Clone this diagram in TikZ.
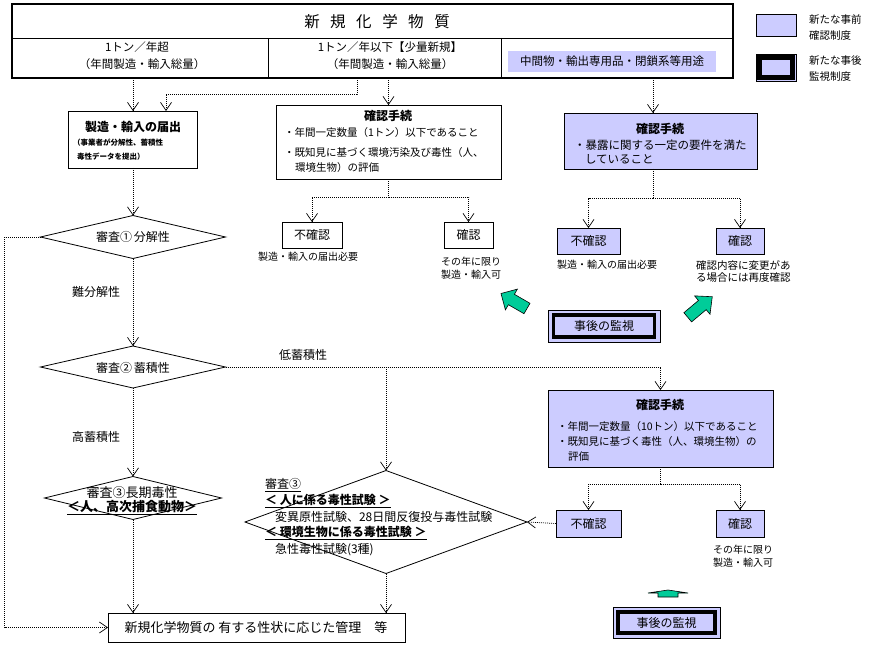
\documentclass[tikz,border=0pt]{standalone}
\usepackage{fontspec}
\setmainfont{Noto Sans CJK JP}
\usetikzlibrary{arrows.meta,shapes.geometric,calc}
\definecolor{lav}{RGB}{204,204,255}
\definecolor{grn}{RGB}{0,204,153}
\begin{document}
\begin{tikzpicture}[x=1pt,y=-1pt,
  bx/.style={draw,line width=0.8pt,inner sep=0,outer sep=0},
  lavbox/.style={bx,fill=lav},
  dia/.style={draw,line width=0.8pt,shape=diamond,inner sep=0,outer sep=0},
  dline/.style={line width=0.7pt,dash pattern=on 0.9pt off 1.1pt},
  flow/.style={dline,-{Straight Barb[length=8pt,width=11pt,line width=0.7pt]}},
  txt/.style={inner sep=0,outer sep=0},
  f13/.style={font=\fontsize{13}{15}\selectfont},
  f13b/.style={font=\fontsize{13}{15}\selectfont\bfseries},
  f12/.style={font=\fontsize{12}{14}\selectfont},
  f12b/.style={font=\fontsize{12}{14}\selectfont\bfseries},
  f11/.style={font=\fontsize{11.5}{13}\selectfont},
  f105/.style={font=\fontsize{10.5}{12}\selectfont},
  f10/.style={font=\fontsize{10}{12}\selectfont},
  f9/.style={font=\fontsize{10.5}{12}\selectfont},
  f75/.style={font=\fontsize{7.5}{9}\selectfont\bfseries},
  garrow/.style={fill=grn,draw=black,line width=0.6pt}]
\useasboundingbox (0,0) rectangle (877,647);

% ---------- top table ----------
\node[bx,line width=2.4pt,minimum width=721pt,minimum height=74pt] (top) at (372.5,41) {};
\draw[line width=0.8pt] (top.west |- 0,38) -- (top.east |- 0,38);
\draw[line width=0.8pt] (268,38) -- (268,78);
\draw[line width=0.8pt] (501,38) -- (501,78);
\node[txt,font=\fontsize{15.5}{17}\selectfont] (title) at (377,22) {新\hspace{10.5pt}規\hspace{10.5pt}化\hspace{10.5pt}学\hspace{10.5pt}物\hspace{10.5pt}質};
\node[txt,f11] (c1a) at (137,47) {1トン／年超};
\node[txt,f11] (c1b) at (142,64) {（年間製造・輸入総量）};
\node[txt,f11] (c2a) at (390,47) {1トン／年以下【少量新規】};
\node[txt,f11] (c2b) at (390,64) {（年間製造・輸入総量）};
\node[fill=lav,inner sep=0,minimum width=208pt,minimum height=21pt,f11] (c3) at (612,61.5) {中間物・輸出専用品・閉鎖系等用途};

% ---------- legend ----------
\node[lavbox,minimum width=40pt,minimum height=22pt] (L1) at (776,25) {};
\node[txt,f9,anchor=west] (L1a) at (809,20) {新たな事前};
\node[txt,f9,anchor=west] (L1b) at (809,36) {確認制度};
\node[lavbox,minimum width=40pt,minimum height=27pt] (L2) at (776,67.5) {};
\draw[line width=4.2pt] ([shift={(3.5pt,-3.5pt)}]L2.north west) rectangle ([shift={(-3.5pt,3.5pt)}]L2.south east);
\node[txt,f9,anchor=west] (L2a) at (809,61) {新たな事後};
\node[txt,f9,anchor=west] (L2b) at (809,77) {監視制度};

% ---------- coordinates on the table bottom ----------
\coordinate (s1) at (133,78);
\coordinate (s2) at (357,78);
\coordinate (s3) at (388.5,78);
\coordinate (s4) at (653,78);

% ---------- left column ----------
\node[bx,minimum width=129pt,minimum height=57pt] (notif) at (133,139.5) {};
\node[txt,f12b] (notift) at (133,127) {製造・輸入の届出};
\node[txt,f75,anchor=west] (notifs1) at (73,143) {（事業者が分解性、蓄積性};
\node[txt,f75,anchor=west] (notifs2) at (77,157) {毒性データを提出）};

\node[dia,minimum width=185pt,minimum height=43pt] (d1) at (133,237) {};
\node[txt,f12] (d1t) at (133,237) {審査①\,分解性};
\node[txt,f12] (lb1) at (96,292) {難分解性};

\node[dia,minimum width=185pt,minimum height=42pt] (d2) at (133,367) {};
\node[txt,f12] (d2t) at (133,368) {審査②\,蓄積性};
\node[txt,f12] (lb2) at (96,437) {高蓄積性};
\node[txt,f12] (lb3) at (303,355) {低蓄積性};

\node[dia,minimum width=177pt,minimum height=43pt] (d4) at (133,498) {};
\node[txt,f13] (d4a) at (132,493) {審査③長期毒性};
\node[txt,f13b] (d4b) at (132,508) {\underline{＜人、高次捕食動物＞}};

\node[dia,minimum width=282pt,minimum height=103pt] (d3) at (386,522) {};
\node[txt,f12,anchor=west] (d3a) at (265,485) {\underline{審査③}};
\node[txt,f12b,anchor=west] (d3b) at (265,501) {\underline{＜ 人に係る毒性試験 ＞}};
\node[txt,f12,anchor=west] (d3c) at (275,517) {変異原性試験、28日間反復投与毒性試験};
\node[txt,f12b,anchor=west] (d3d) at (265,533) {\underline{＜ 環境生物に係る毒性試験 ＞}};
\node[txt,f12,anchor=west] (d3e) at (275,550) {急性毒性試験(3種)};

\node[bx,minimum width=297pt,minimum height=29pt] (final) at (256.5,627.5) {};
\node[txt,f13] (finalt) at (256,627.5) {新規化学物質の 有する性状に応じた管理　等};

% ---------- middle: small-quantity confirmation ----------
\node[bx,minimum width=225pt,minimum height=74pt] (k1) at (388.5,142) {};
\node[txt,f12b] (k1t) at (388,116) {確認手続};
\node[txt,f105,anchor=west] (k1a) at (284,133) {・年間一定数量（1トン）以下であること};
\node[txt,f105,anchor=west] (k1b) at (284,153) {・既知見に基づく環境汚染及び毒性（人、};
\node[txt,f105,anchor=west] (k1c) at (295,168) {環境生物）の評価};

\node[bx,f12,minimum width=60pt,minimum height=26pt] (nf1) at (312,235) {不確認};
\node[bx,f12,minimum width=49pt,minimum height=26pt] (ok1) at (468.5,235) {確認};
\node[txt,f10] (nf1t) at (308,257) {製造・輸入の届出必要};
\node[txt,f10] (ok1a) at (471,262) {その年に限り};
\node[txt,f10] (ok1b) at (471,275) {製造・輸入可};

% ---------- right: intermediates ----------
\node[lavbox,minimum width=193pt,minimum height=56pt] (k2) at (660.5,141) {};
\node[txt,f12b] (k2t) at (660,129) {確認手続};
\node[txt,f11,anchor=west] (k2a) at (574,145) {・暴露に関する一定の要件を満た};
\node[txt,f11,anchor=west] (k2b) at (585,159) {していること};

\node[lavbox,f12,minimum width=63pt,minimum height=26pt] (nf2) at (588.5,241) {不確認};
\node[lavbox,f12,minimum width=48pt,minimum height=26pt] (ok2) at (740,241) {確認};
\node[txt,f10] (nf2t) at (607,265) {製造・輸入の届出必要};
\node[txt,f105,anchor=west] (ok2a) at (696,265) {確認内容に変更があ};
\node[txt,f105,anchor=west] (ok2b) at (696,278) {る場合には再度確認};

\node[lavbox,f12,minimum width=112pt,minimum height=32pt] (m1) at (604,326) {};
\draw[line width=3.4pt] ([shift={(5.5pt,-5pt)}]m1.north west) rectangle ([shift={(-5.5pt,5pt)}]m1.south east);
\node[txt,f12] (m1t) at (604,326) {事後の監視};

\draw[garrow,shift={(514,301)},rotate=150] (-15,-6) -- (3,-6) -- (3,-12) -- (15,0) -- (3,12) -- (3,6) -- (-15,6) -- cycle;
\draw[garrow,shift={(700,307)},rotate=40] (-16,-6) -- (3,-6) -- (3,-12) -- (16,0) -- (3,12) -- (3,6) -- (-16,6) -- cycle;

% ---------- lower right: low accumulation ----------
\node[lavbox,minimum width=225pt,minimum height=77pt] (k3) at (660.5,428.5) {};
\node[txt,f12b] (k3t) at (660,405) {確認手続};
\node[txt,f105,anchor=west] (k3a) at (557,427) {・年間一定数量（10トン）以下であること};
\node[txt,f105,anchor=west] (k3b) at (557,442) {・既知見に基づく毒性（人、環境生物）の};
\node[txt,f105,anchor=west] (k3c) at (568,457) {評価};

\node[lavbox,f12,minimum width=65pt,minimum height=27pt] (nf3) at (588.5,523.5) {不確認};
\node[lavbox,f12,minimum width=48pt,minimum height=27pt] (ok3) at (740,523.5) {確認};
\node[txt,f10] (ok3a) at (743,550) {その年に限り};
\node[txt,f10] (ok3b) at (743,563) {製造・輸入可};

\draw[garrow] (658,597) -- (658,593) -- (648,593) -- (668,590) -- (688,593) -- (678,593) -- (678,597) -- cycle;

\node[lavbox,minimum width=107pt,minimum height=31pt] (m2) at (666.5,622.5) {};
\draw[line width=3.4pt] ([shift={(5pt,-5pt)}]m2.north west) rectangle ([shift={(-5pt,5pt)}]m2.south east);
\node[txt,f12] (m2t) at (666.5,622.5) {事後の監視};

% ---------- connectors ----------
\draw[flow] (s1) -- (s1 |- notif.north);
\draw[flow] (s2) -- (s2 |- 0,94) -| ([xshift=33pt]notif.north);
\draw[flow] (s3) -- (s3 |- k1.north);
\draw[flow] (s4) -- (s4 |- k2.north);

\draw[dline] (k1.south) -- ++(0,18) coordinate (b1);
\draw[flow] (b1) -| (nf1.north);
\draw[flow] (b1) -| (ok1.north);

\draw[dline] ([xshift=-7.5pt]k2.south) -- ++(0,29) coordinate (b2);
\draw[flow] (b2) -| (nf2.north);
\draw[flow] (b2) -| (ok2.north);

\draw[flow] (notif.south) -- (d1.north);
\draw[flow] (d1.south) -- (d2.north);
\draw[flow] (d1.west) -- ++(-36,0) |- (final.west);
\draw[flow] (d2.east) -| (k3.north);
\draw[flow] (d3.north |- d2.east) -- (d3.north);
\draw[flow] (d2.south) -- (d4.north);
\draw[flow] (d4.south) -- (d4.south |- final.north);
\draw[flow] (d3.south) -- (d3.south |- final.north);

\draw[dline] (k3.south) -- ++(0,17) coordinate (b3);
\draw[flow] (b3) -| (nf3.north);
\draw[flow] (b3) -| (ok3.north);
\draw[flow] (nf3.west) -- (d3.east);
\end{tikzpicture}
\end{document}
